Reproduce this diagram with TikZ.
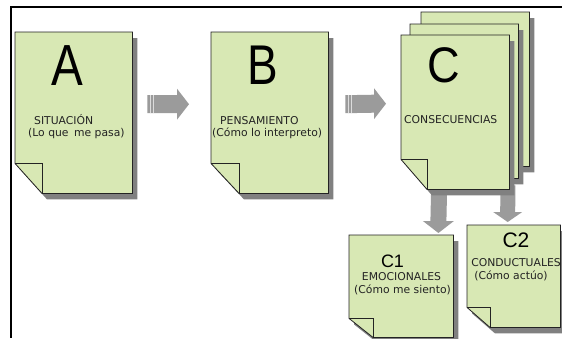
\documentclass[tikz,border=0pt]{standalone}
\usepackage{fontspec}
\setmainfont{DejaVu Sans}
\newfontfamily\bigfont{Liberation Sans}
\usetikzlibrary{calc}
\pgfdeclarelayer{bglayer}
\pgfdeclarelayer{arrowlayer}
\pgfdeclarelayer{pagelayer}
\pgfsetlayers{bglayer,arrowlayer,pagelayer,main}
\definecolor{pagegreen}{RGB}{216,232,180}
\definecolor{shadowgray}{RGB}{128,128,128}
\definecolor{arrowgray}{RGB}{155,155,155}
\definecolor{inkc}{RGB}{35,35,35}
\tikzset{
  pagebox/.style={rectangle, inner sep=0pt, anchor=north west, draw=none},
  smalltxt/.style={inner sep=0pt, text=inkc, font=\fontsize{10.8}{12}\selectfont},
  bigletter/.style={inner sep=0pt, text=black, xscale=0.82},
}
% name, fold width, fold height
\newcommand\pageshape[3]{%
  \begin{pgfonlayer}{pagelayer}
    \fill[shadowgray] ($(#1.north west)+(5,6)$) -- ($(#1.north east)+(5,6)$) --
      ($(#1.south east)+(5,6)$) -- ($(#1.south west)+(5+#2,6)$) --
      ($(#1.south west)+(5,6-#3)$) -- cycle;
    \path[fill=pagegreen, draw=inkc, line width=0.8pt] (#1.north west) -- (#1.north east) --
      (#1.south east) -- ($(#1.south west)+(#2,0)$) -- ($(#1.south west)+(0,-#3)$) -- cycle;
    \draw[inkc, line width=0.8pt] ($(#1.south west)+(0,-#3)$) -- ($(#1.south west)+(#2,-#3)$) --
      ($(#1.south west)+(#2,0)$);
  \end{pgfonlayer}}
% right block arrow: tail, tip
\newcommand\rblock[2]{%
  \begin{pgfonlayer}{arrowlayer}
    \fill[arrowgray] ($(#1)+(0,-9)$) -- ($(#2)+(-12,-9)$) -- ($(#2)+(-12,-15.5)$) -- (#2) --
      ($(#2)+(-12,15.5)$) -- ($(#2)+(-12,9)$) -- ($(#1)+(0,9)$) -- cycle;
    \draw[white!65!arrowgray, line width=0.8pt] ($(#1)+(2.8,-9)$) -- ($(#1)+(2.8,9)$);
    \draw[white!65!arrowgray, line width=0.8pt] ($(#1)+(5.6,-9)$) -- ($(#1)+(5.6,9)$);
  \end{pgfonlayer}}
% down block arrow: tail, tip, shaft half width, head half width, head length
\newcommand\dblock[5]{%
  \begin{pgfonlayer}{arrowlayer}
    \fill[arrowgray] ($(#1)+(-#3,0)$) -- ($(#2)+(-#3,-#5)$) -- ($(#2)+(-#4,-#5)$) -- (#2) --
      ($(#2)+(#4,-#5)$) -- ($(#2)+(#3,-#5)$) -- ($(#1)+(#3,0)$) -- cycle;
  \end{pgfonlayer}}
\begin{document}
\begin{tikzpicture}[x=1pt, y=-1pt]
\useasboundingbox (0,0) rectangle (562,338);
\begin{pgfonlayer}{bglayer}
\fill[white] (0,0) rectangle (562,338);
\end{pgfonlayer}
% frame
\draw[black, line width=1.3pt] (562,7) -- (11,7) -- (11,338);

% pages
\node[pagebox, minimum width=117pt, minimum height=161pt] (A) at (15,32) {};
\node[pagebox, minimum width=117pt, minimum height=161pt] (B) at (211,32) {};
\node[pagebox, minimum width=108pt, minimum height=154pt] (Cback) at (421,12) {};
\node[pagebox, minimum width=108pt, minimum height=154pt] (Cmid) at (410,24) {};
\node[pagebox, minimum width=108pt, minimum height=154pt] (C) at (401,35) {};
\node[pagebox, minimum width=104pt, minimum height=102pt] (C1) at (349,235) {};
\node[pagebox, minimum width=93pt, minimum height=102pt] (C2) at (467,225) {};

\pageshape{A}{27}{30}
\pageshape{B}{28}{30}
\pageshape{Cback}{26}{30}
\pageshape{Cmid}{26}{30}
\pageshape{C}{26}{30}
\pageshape{C1}{24}{19}
\pageshape{C2}{23}{20}

% arrows
\coordinate (abtail) at ($(A.east)+(15,-8.5)$);
\coordinate (abtip) at ($(B.west)+(-22,-8.5)$);
\coordinate (bctail) at ($(B.east)+(17,-8.5)$);
\coordinate (bctip) at ($(C.west)+(-15,-8.5)$);
\coordinate (c1tail) at ($(C.south)+(-16,-4)$);
\coordinate (c1tip) at ($(C1.north east)+(-15,-2)$);
\coordinate (c2tail) at ($(C.south east)+(-1.5,-4)$);
\coordinate (c2tip) at ($(C2.north)+(-6,-3)$);
\rblock{abtail}{abtip}
\rblock{bctail}{bctip}
\dblock{c1tail}{c1tip}{8}{15.5}{12}
\dblock{c2tail}{c2tip}{7.5}{14.5}{10}

% texts
\node[bigletter, font=\bigfont\fontsize{58}{58}\selectfont] (Aletter) at (67.5,66) {A};
\node[smalltxt, anchor=base west] (Atitle) at (34,124) {SITUACIÓN};
\node[smalltxt, anchor=base west] (Asub) at (28,136) {(Lo que\hspace{2pt} me pasa)};

\node[bigletter, font=\bigfont\fontsize{56}{56}\selectfont] (Bletter) at (263,65) {B};
\node[smalltxt, anchor=base west] (Btitle) at (220,124) {PENSAMIENTO};
\node[smalltxt, anchor=base west] (Bsub) at (212,136) {(Cómo lo interpreto)};

\node[bigletter, xscale=1.1, font=\bigfont\fontsize{50}{50}\selectfont] (Cletter) at (443.5,65) {C};
\node[smalltxt, anchor=base west] (Ctitle) at (404,123) {CONSECUENCIAS};

\node[inner sep=0pt, text=black, font=\bigfont\fontsize{18}{18}\selectfont] (C1letter) at (392.5,261.5) {C1};
\node[smalltxt, anchor=base] (C1title) at (401.5,280) {EMOCIONALES};
\node[smalltxt, anchor=base] (C1sub) at (402.5,293) {(Cómo me siento)};

\node[inner sep=0pt, text=black, font=\bigfont\fontsize{21}{21}\selectfont] (C2letter) at (516,240.5) {C2};
\node[smalltxt, anchor=base] (C2title) at (516,266) {CONDUCTUALES};
\node[smalltxt, anchor=base] (C2sub) at (511,279) {(Cómo actúo)};
\end{tikzpicture}
\end{document}
